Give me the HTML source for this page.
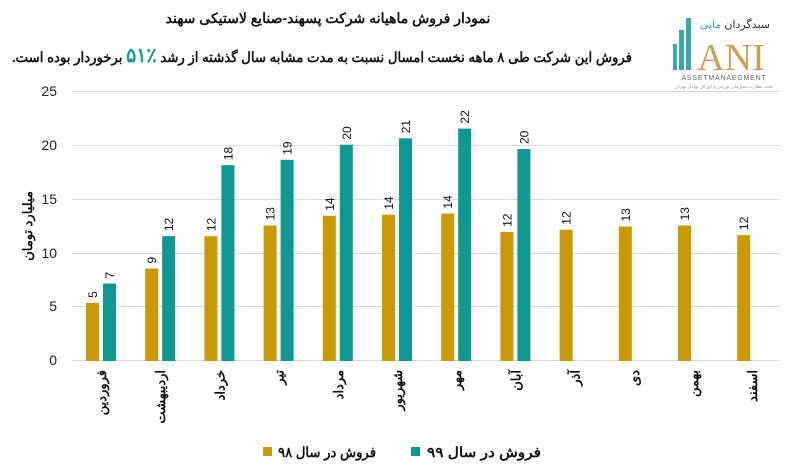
<!DOCTYPE html>
<html><head><meta charset="utf-8"><style>
body{margin:0;background:#fff;}
svg{display:block;font-family:"Liberation Sans","Noto Sans CJK SC",sans-serif;}
</style></head><body>
<svg width="796" height="476" xmlns="http://www.w3.org/2000/svg">
<rect width="796" height="476" fill="#fff"/>
<text x="328" y="23" text-anchor="middle" font-size="14" font-weight="bold" fill="#111" direction="rtl">نمودار فروش ماهیانه شرکت پسهند-صنایع لاستیکی  سهند</text>
<text x="632" y="62" text-anchor="start" font-size="14" font-weight="bold" fill="#111" direction="rtl" textLength="620" lengthAdjust="spacingAndGlyphs">فروش این شرکت طی ۸ ماهه نخست امسال نسبت به مدت مشابه سال گذشته از رشد <tspan fill="#139A94" font-size="20">٪۵۱</tspan> برخوردار بوده است.</text>
<!-- logo -->
<g>
<rect x="673" y="44" width="4" height="26" fill="#3aa7ad"/>
<rect x="679" y="30" width="5" height="40" fill="#3aa7ad"/>
<rect x="686" y="18" width="5" height="52" fill="#3aa7ad"/>
<text x="731" y="70" text-anchor="middle" font-family="Liberation Serif,serif" font-size="38" fill="#c9a15a">ANI</text>
<text x="724" y="80" text-anchor="middle" font-size="7" fill="#666" letter-spacing="0.8">ASSETMANAEGMENT</text>
<text x="724" y="88" text-anchor="middle" font-size="5" fill="#999" direction="rtl">تحت نظارت سازمان بورس و اوراق بهادار تهران</text>
<text x="770" y="28" text-anchor="start" font-size="11" fill="#333" direction="rtl">سبدگردان <tspan fill="#3aa7ad">مانی</tspan></text>
</g>
<!-- grid -->
<g stroke="#d9d9d9" stroke-width="1">
<line x1="72" y1="91.5" x2="780" y2="91.5"/>
<line x1="72" y1="145.5" x2="780" y2="145.5"/>
<line x1="72" y1="199.5" x2="780" y2="199.5"/>
<line x1="72" y1="253.5" x2="780" y2="253.5"/>
<line x1="72" y1="306.5" x2="780" y2="306.5"/>
<line x1="72" y1="360.5" x2="780" y2="360.5"/>
</g>
<g font-size="14" fill="#222" text-anchor="end">
<text x="57" y="96">25</text><text x="57" y="150">20</text><text x="57" y="204">15</text>
<text x="57" y="258">10</text><text x="57" y="311">5</text><text x="57" y="365">0</text>
</g>
<text transform="translate(32,226) rotate(-90)" text-anchor="middle" font-size="13" font-weight="bold" fill="#111" direction="rtl">میلیارد تومان</text>
<g id="bars"></g>
<g id="labels"></g>
<!-- legend -->
<rect x="263" y="447" width="9" height="9" fill="#C99A06"/>
<text x="376" y="457" text-anchor="start" font-size="14" font-weight="bold" fill="#111" direction="rtl" textLength="98" lengthAdjust="spacingAndGlyphs">فروش در سال ۹۸</text>
<rect x="411" y="447" width="9" height="9" fill="#0F9891"/>
<text x="541" y="457" text-anchor="start" font-size="14" font-weight="bold" fill="#111" direction="rtl" textLength="114" lengthAdjust="spacingAndGlyphs">فروش در سال ۹۹</text>
<script>
var g=[5.4,8.6,11.6,12.6,13.5,13.6,13.7,12.0,12.2,12.5,12.6,11.7];
var t=[7.2,11.6,18.2,18.7,20.1,20.7,21.6,19.7];
var gl=[5,9,12,13,14,14,14,12,12,13,13,12];
var tl=[7,12,18,19,20,21,22,20];
var m=["فروردین","اردیبهشت","خرداد","تیر","مرداد","شهریور","مهر","آبان","آذر","دی","بهمن","اسفند"];
var ns="http://www.w3.org/2000/svg",B=document.getElementById('bars'),L=document.getElementById('labels');
function rect(x,y,w,h,c){var r=document.createElementNS(ns,'rect');r.setAttribute('x',x);r.setAttribute('y',y);r.setAttribute('width',w);r.setAttribute('height',h);r.setAttribute('fill',c);B.appendChild(r);}
function txt(x,y,s,anchor,fs,bold){var e=document.createElementNS(ns,'text');e.setAttribute('transform','translate('+x+','+y+') rotate(-90)');e.setAttribute('text-anchor',anchor);e.setAttribute('font-size',fs);if(bold)e.setAttribute('font-weight','bold');e.setAttribute('fill','#111');e.textContent=s;L.appendChild(e);}
var k=10.76,z=361,sp=59.2;
for(var i=0;i<12;i++){
 var gx=86+i*sp;var h=g[i]*k;rect(gx,z-h,13,h,'#C99A06');
 txt(gx+11,z-h-5,gl[i],'start',12,false);
 if(i<8){var tx=gx+17;var h2=t[i]*k;rect(tx,z-h2,13,h2,'#0F9891');txt(tx+11,z-h2-5,tl[i],'start',12,false);}
 var e=document.createElementNS(ns,'text');e.setAttribute('transform','translate('+(gx+20)+',370) rotate(-90)');e.setAttribute('text-anchor','start');e.setAttribute('font-size','13');e.setAttribute('font-weight','bold');e.setAttribute('fill','#111');e.setAttribute('direction','rtl');e.textContent=m[i];L.appendChild(e);
}
</script>
</svg>
</body></html>
